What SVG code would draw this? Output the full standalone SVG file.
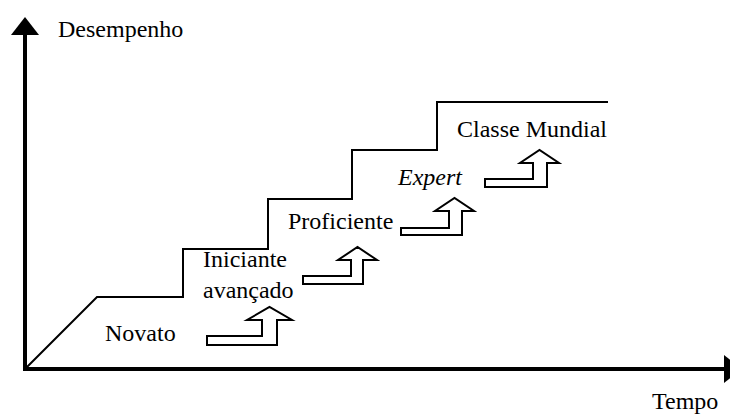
<svg xmlns="http://www.w3.org/2000/svg" width="730" height="415" viewBox="0 0 730 415">
  <style>
    .lbl { font-family: "Liberation Serif", "Times New Roman", serif; font-size: 24px; fill: #000; }
    .axis { stroke: #000; stroke-width: 4; fill: none; }
    .stair { stroke: #000; stroke-width: 2; fill: none; }
    .step { stroke: #000; stroke-width: 2; fill: #fff; stroke-linejoin: miter; }
  </style>
  <rect width="730" height="415" fill="#fff"/>

  <g id="connectors">
    <!-- axes -->
    <polyline class="axis" points="25,35 25,369 724,369"/>
    <polygon points="25,17 11,35 39,35" fill="#000"/>
    <polygon points="742,369 724,355 724,383" fill="#000"/>
    <!-- performance staircase -->
    <polyline class="stair" points="27,367 97,297 183,297 183,249 268,249 268,199 352,199 352,150 437,150 437,102 608,102"/>
  </g>

  <g id="axis-labels">
    <text class="lbl" x="58" y="37">Desempenho</text>
    <text class="lbl" x="652" y="409">Tempo</text>
  </g>

  <g id="novato">
    <text class="lbl" x="105" y="341">Novato</text>
    <polygon class="step" points="207,336 262,336 262,320 247,320 269.5,307 292,320 277,320 277,345 207,345"/>
  </g>

  <g id="iniciante-avancado">
    <text class="lbl" x="203" y="267">Iniciante</text>
    <text class="lbl" x="203" y="298">avançado</text>
    <polygon class="step" points="303,276 351,276 351,260 338,260 357.5,247 377,260 363,260 363,284 303,284"/>
  </g>

  <g id="proficiente">
    <text class="lbl" x="288" y="229">Proficiente</text>
    <polygon class="step" points="401,228 449,228 449,211 435,211 454.5,198 474,211 462,211 462,235 401,235"/>
  </g>

  <g id="expert">
    <text class="lbl" x="398" y="185" font-style="italic">Expert</text>
    <polygon class="step" points="485,179 533,179 533,163 520,163 539.5,150 559,163 547,163 547,187 485,187"/>
  </g>

  <g id="classe-mundial">
    <text class="lbl" x="457" y="137">Classe Mundial</text>
  </g>
</svg>
